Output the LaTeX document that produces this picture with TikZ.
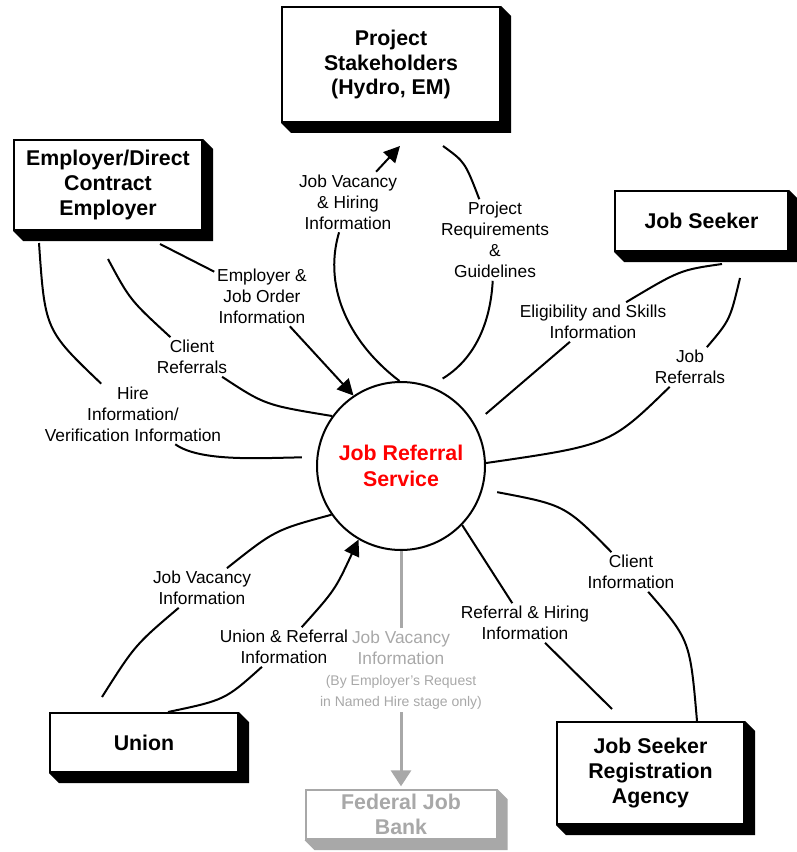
\documentclass[tikz,border=0pt]{standalone}
\usepackage{fontspec}
\setmainfont{Liberation Sans}
\usetikzlibrary{arrows.meta}
\definecolor{fjbgray}{RGB}{168,168,168}
\tikzset{
	entity/.style={draw, line width=1.5pt, fill=white, align=center, inner sep=2pt, font=\bfseries\fontsize{16}{18.5}\selectfont},
	process/.style={circle, draw, line width=1.5pt, minimum size=126pt, align=center, text=red, font=\bfseries\fontsize{16}{19}\selectfont},
	flowlbl/.style={align=center, inner sep=2pt, font=\fontsize{13}{15.75}\selectfont},
	flow/.style={line width=1.5pt},
	flowarr/.style={flow, -{Triangle[length=12pt,width=12pt]}},
	grayflow/.style={line width=2.25pt, draw=fjbgray},
	grayarr/.style={grayflow, -{Triangle[length=12pt,width=15pt]}, shorten >=2pt}
}
\newcommand{\smalltxt}{\fontsize{10.5}{13.5}\selectfont}
\begin{document}
\begin{tikzpicture}[x=0.75pt, y=-0.75pt]
	\useasboundingbox (0,0) rectangle (796,852);
	\node[entity, minimum width=163.5pt, minimum height=86.25pt] (stake) at (391,64.5) {Project\\Stakeholders\\(Hydro, EM)};
	\node[entity, minimum width=141pt, minimum height=67.5pt] (employer) at (108,185) {Employer/Direct\\Contract\\Employer};
	\node[entity, minimum width=129.75pt, minimum height=45pt] (seeker) at (701.5,221) {Job Seeker};
	\node[entity, minimum width=141pt, minimum height=44.25pt] (union) at (144,742.5) {Union};
	\node[entity, minimum width=140.25pt, minimum height=76.5pt] (agency) at (650.5,773) {Job Seeker\\Registration\\Agency};
	\node[entity, draw=fjbgray, text=fjbgray, minimum width=143.25pt, minimum height=36.75pt] (fjb) at (401,814.5) {Federal Job\\Bank};
	\foreach \b in {stake, employer, seeker, union, agency}
		\fill (\b.south west) -- ++(10,10) -| ([shift={(10,10)}]\b.north east) -- (\b.north east) -- (\b.south east) -- cycle;
	\fill[fjbgray] (fjb.south west) -- ++(10,10) -| ([shift={(10,10)}]fjb.north east) -- (fjb.north east) -- (fjb.south east) -- cycle;
	\node[process] (hub) at (401,466) {Job Referral\\Service};

	\node[flowlbl] (jvhi) at (348,202) {Job Vacancy\\\& Hiring\\Information};
	\node[flowlbl] (prg) at (495,240) {Project\\Requirements\\\&\\Guidelines};
	\node[flowlbl] (jo) at (262,296) {Employer \&\\Job Order\\Information};
	\node[flowlbl] (cref) at (192,357) {Client\\Referrals};
	\node[flowlbl] (hire) at (133,414) {Hire\\Information/\\Verification Information};
	\node[flowlbl] (elig) at (593,322) {Eligibility and Skills\\Information};
	\node[flowlbl] (jref) at (690,367) {Job\\Referrals};
	\node[flowlbl] (cinfo) at (631,572) {Client\\Information};
	\node[flowlbl] (rhi) at (525,623) {Referral \& Hiring\\Information};
	\node[flowlbl] (jvi) at (202,588) {Job Vacancy\\Information};
	\node[flowlbl] (uri) at (284,647) {Union \& Referral\\Information};
	\node[flowlbl, text=fjbgray] (fjv) at (401,670) {Job Vacancy\\Information\\\smalltxt(By Employer's Request\\\smalltxt in Named Hire stage only)};

	\draw[flow] (hub.91) .. controls (352,345) and (322,290) .. (jvhi);
	\draw[flowarr] (jvhi) -- ([shift={(9,23)}]stake.south);
	\draw[flow] ([shift={(52,23)}]stake.south) .. controls (465,162) .. (prg);
	\draw[flow, shorten >=11pt] (prg) .. controls (490,330) and (470,362) .. (hub.70);
	\draw[flow] ([shift={(52,13)}]employer.south) -- (jo);
	\draw[flowarr] (jo) -- (hub.124);
	\draw[flow] ([shift={(0,28)}]employer.south) .. controls (130,300) .. (cref);
	\draw[flow] (cref) .. controls (265,405) .. (hub.144);
	\draw[flow] ([shift={(26,12)}]employer.south west) .. controls (45,330) .. (hire);
	\draw[flow, shorten >=11pt] (hire) .. controls (200,462) and (260,458) .. (hub.174);
	\draw[flow] ([shift={(20.5,12)}]seeker.south) .. controls (680,270) .. (elig);
	\draw[flow, shorten >=11pt] (elig) -- (hub.30);
	\draw[flow] ([shift={(38.5,26)}]seeker.south) .. controls (730,320) .. (jref);
	\draw[flow] (jref) .. controls (610,445) .. (hub.2);
	\draw[flow, shorten <=11pt] (hub.344) .. controls (565,505) .. (cinfo);
	\draw[flow] (cinfo) .. controls (690,640) .. ([shift={(46.5,0)}]agency.north);
	\draw[flow] (hub.316) -- (rhi);
	\draw[flow] (rhi) -- ([shift={(-38.5,-12)}]agency.north);
	\draw[flow] ([shift={(-42,-15)}]union.north) .. controls (135,645) .. (jvi);
	\draw[flow] (jvi) .. controls (275,530) .. (hub.215);
	\draw[flow] ([shift={(24,0)}]union.north) .. controls (225,700) .. (uri);
	\draw[flowarr] (uri) .. controls (335,590) .. (hub.240);
	\draw[grayflow] (hub) -- (fjv);
	\draw[grayarr] (fjv) -- (fjb);
\end{tikzpicture}
\end{document}
